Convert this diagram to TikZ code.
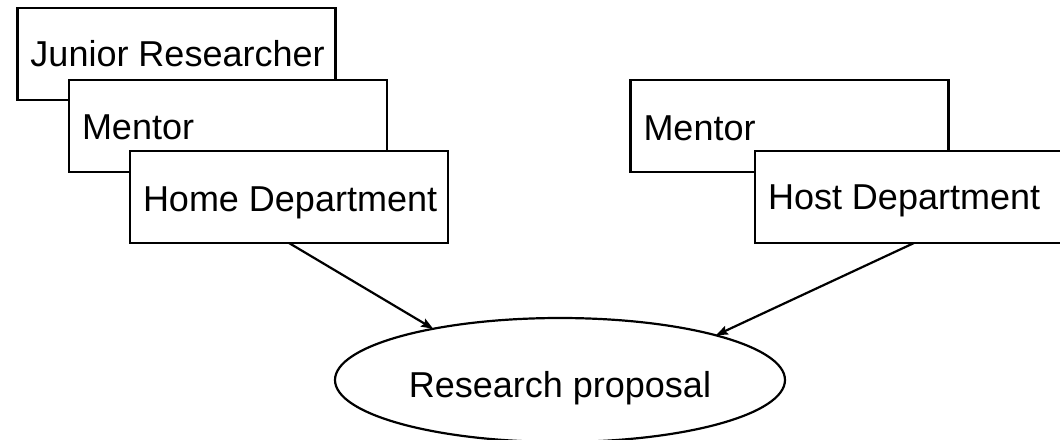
\documentclass[tikz,border=0pt]{standalone}
\usepackage{fontspec}
\setmainfont{Liberation Sans}
\usetikzlibrary{shapes.geometric,arrows.meta,calc}
\begin{document}
\begin{tikzpicture}[x=1pt,y=-1pt,
  box/.style={draw=black,fill=white,line width=2.2pt,minimum width=318pt,minimum height=92pt,inner sep=0pt,outer sep=0pt},
  lbl/.style={font=\fontsize{36}{40}\selectfont,inner sep=0pt,outer sep=0pt,anchor=base west},
  oval/.style={ellipse,draw=black,fill=white,line width=2.2pt,minimum width=450pt,minimum height=124pt,inner sep=0pt,outer sep=0pt,font=\fontsize{36}{40}\selectfont,text height=34pt,text depth=0pt},
  conn/.style={line width=2.2pt,-{Stealth[length=12pt,width=9pt,inset=2pt]}}]
\useasboundingbox[fill=white] (0,0) rectangle (1060,439);
\clip (0,0) rectangle (1060,439);
% left stack
\node[box] (jr) at (176.5,54) {};
\node[lbl] (jrt) at ($(jr.north west)+(13,58)$) {Junior Researcher};
\node[box] (m1) at (228,126) {};
\node[lbl] (m1t) at ($(m1.north west)+(13,59)$) {Mentor};
\node[box] (hd) at (289,197) {};
\node[lbl] (hdt) at ($(hd.north west)+(13,60)$) {Home Department};
% right stack
\node[box] (m2) at (789.5,126) {};
\node[lbl] (m2t) at ($(m2.north west)+(13,60)$) {Mentor};
\node[box] (hod) at (914,197) {};
\node[lbl] (hodt) at ($(hod.north west)+(13,58)$) {Host Department};
% proposal
\node[oval] (rp) at (560,380) {Research proposal};
\draw[conn] (hd.south) -- (rp.158);
\draw[conn] (hod.south) -- (rp.16);
\end{tikzpicture}
\end{document}
